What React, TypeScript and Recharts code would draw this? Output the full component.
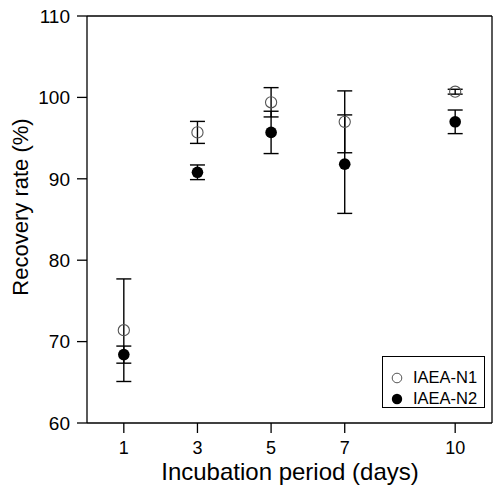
import {
  ErrorBar,
  Legend,
  ReferenceLine,
  Scatter,
  ScatterChart,
  XAxis,
  YAxis,
} from "recharts";

const days = [1, 3, 5, 7, 10];
const n1Mean = [71.4, 95.7, 99.4, 97.0, 100.7];
const n1Err = [6.3, 1.35, 1.8, 3.8, 0.3];
const n2Mean = [68.4, 90.8, 95.7, 91.8, 97.0];
const n2Err = [1.05, 0.9, 2.6, 6.05, 1.45];

const xTicks = [1, 3, 5, 7, 10];
const yTicks = [60, 70, 80, 90, 100, 110];

const FONT = "'Liberation Sans', Arial, sans-serif";

const n1Rows = days.map((d, i) => ({ day: d, value: n1Mean[i], err: n1Err[i] }));
const n2Rows = days.map((d, i) => ({ day: d, value: n2Mean[i], err: n2Err[i] }));

const OpenDot = (p: any) => (
  <circle cx={p.cx} cy={p.cy} r={5.6} fill="none" stroke="#555" strokeWidth={1.1} />
);
const FilledDot = (p: any) => <circle cx={p.cx} cy={p.cy} r={5.8} fill="#000" />;

function LegendBox() {
  const items = [
    { label: "IAEA-N1", open: true },
    { label: "IAEA-N2", open: false },
  ];
  return (
    <div
      style={{
        boxSizing: "border-box",
        width: 103,
        height: 52,
        border: "1px solid #000",
        background: "#fff",
        paddingTop: 10,
        fontFamily: FONT,
        fontSize: 16.5,
        color: "#000",
      }}
    >
      {items.map((it) => (
        <div
          key={it.label}
          style={{ display: "flex", alignItems: "center", height: 21, paddingLeft: 8 }}
        >
          <svg width={12} height={12} style={{ marginRight: 10 }}>
            {it.open ? (
              <circle cx={6} cy={6} r={4.8} fill="none" stroke="#555" strokeWidth={1} />
            ) : (
              <circle cx={6} cy={6} r={5.2} fill="#000" />
            )}
          </svg>
          <span style={{ lineHeight: "21px" }}>{it.label}</span>
        </div>
      ))}
    </div>
  );
}

export default function App() {
  return (
    <div style={{ position: "absolute", left: 0, top: 0, width: 494, height: 485, background: "#fff" }}>
      <ScatterChart
        width={494}
        height={485}
        margin={{ top: 16, right: 2, bottom: 0, left: 0 }}
      >
        <XAxis
          type="number"
          dataKey="day"
          domain={[0, 11]}
          ticks={xTicks}
          height={62}
          stroke="#000"
          strokeWidth={1.3}
          tickSize={10}
          tickMargin={8}
          tick={{ fill: "#000", fontSize: 18, fontFamily: FONT }}
          label={{
            content: () => (
              <text x={290} y={480} textAnchor="middle" fontSize={24} fontFamily={FONT} fill="#000">
                Incubation period (days)
              </text>
            ),
          }}
        />
        <YAxis
          type="number"
          dataKey="value"
          domain={[60, 110]}
          ticks={yTicks}
          width={87}
          stroke="#000"
          strokeWidth={1.3}
          tickSize={10}
          tickMargin={7}
          tick={{ fill: "#000", fontSize: 19, fontFamily: FONT }}
          label={{
            content: () => (
              <text
                x={28}
                y={207}
                transform="rotate(-90, 28, 207)"
                textAnchor="middle"
                fontSize={22}
                fontFamily={FONT}
                fill="#000"
              >
                Recovery rate (%)
              </text>
            ),
          }}
        />
        <ReferenceLine y={110} stroke="#000" strokeWidth={1.3} />
        <ReferenceLine x={11} stroke="#000" strokeWidth={1.3} />
        <Scatter name="IAEA-N1" data={n1Rows} shape={OpenDot} isAnimationActive={false}>
          <ErrorBar dataKey="err" direction="y" width={7.5} stroke="#000" strokeWidth={1.4} />
        </Scatter>
        <Scatter name="IAEA-N2" data={n2Rows} shape={FilledDot} isAnimationActive={false}>
          <ErrorBar dataKey="err" direction="y" width={7.5} stroke="#000" strokeWidth={1.4} />
        </Scatter>
        <Legend
          layout="horizontal"
          align="center"
          verticalAlign="middle"
          content={() => <LegendBox />}
          wrapperStyle={{ left: 382, top: 356, width: 103, height: 52 }}
        />
      </ScatterChart>
    </div>
  );
}
